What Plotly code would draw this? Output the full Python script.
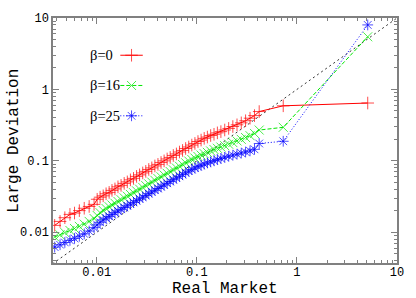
import plotly.graph_objects as go

# ---- data ----
real_market = [0.0038, 0.0043, 0.0048, 0.0054, 0.0060, 0.0067, 0.0075, 0.0084, 0.0094, 0.0101,
               0.0108, 0.0116, 0.0124, 0.0133, 0.0142, 0.0152, 0.0163, 0.0175, 0.0188, 0.0202,
               0.0217, 0.0233, 0.0250, 0.0268, 0.0288, 0.0309, 0.0331, 0.0355, 0.0381, 0.0409,
               0.0439, 0.0471, 0.0505, 0.0542, 0.0582, 0.0625, 0.0671, 0.0720, 0.0773, 0.0830,
               0.0891, 0.0957, 0.1027, 0.1103, 0.1185, 0.1275, 0.1375, 0.1485, 0.1605, 0.1740,
               0.1900, 0.2080, 0.2290, 0.2520, 0.2780, 0.3070, 0.3400, 0.3770, 0.4200, 0.7300,
               5.1000]

beta0 = [0.0125, 0.0142, 0.0160, 0.0178, 0.0186, 0.0201, 0.0217, 0.0230, 0.0246, 0.0290,
         0.0310, 0.0324, 0.0346, 0.0362, 0.0386, 0.0405, 0.0433, 0.0454, 0.0484, 0.0508,
         0.0542, 0.0569, 0.0606, 0.0637, 0.0678, 0.0713, 0.0758, 0.0798, 0.0849, 0.0893,
         0.0950, 0.1000, 0.1063, 0.1118, 0.1190, 0.1250, 0.1330, 0.1400, 0.1490, 0.1565,
         0.1664, 0.1755, 0.1865, 0.1955, 0.2065, 0.2155, 0.2265, 0.2355, 0.2465, 0.2565,
         0.2705, 0.2845, 0.3025, 0.3195, 0.3405, 0.3645, 0.3955, 0.4300, 0.4900, 0.5900,
         0.6450]

beta16 = [0.0086, 0.0092, 0.0099, 0.0106, 0.0113, 0.0121, 0.0130, 0.0142, 0.0156, 0.0172,
          0.0188, 0.0202, 0.0215, 0.0228, 0.0241, 0.0255, 0.0270, 0.0286, 0.0303, 0.0320,
          0.0339, 0.0359, 0.0380, 0.0402, 0.0425, 0.0450, 0.0476, 0.0504, 0.0534, 0.0565,
          0.0598, 0.0633, 0.0670, 0.0709, 0.0750, 0.0794, 0.0840, 0.0889, 0.0940, 0.0995,
          0.1045, 0.1095, 0.1150, 0.1205, 0.1260, 0.1315, 0.1375, 0.1440, 0.1500, 0.1560,
          0.1630, 0.1710, 0.1800, 0.1900, 0.2000, 0.2120, 0.2250, 0.2420, 0.2700, 0.2950,
          5.4600]

beta25 = [0.0062, 0.0067, 0.0072, 0.0077, 0.0082, 0.0088, 0.0095, 0.0104, 0.0116, 0.0127,
          0.0138, 0.0149, 0.0158, 0.0167, 0.0177, 0.0188, 0.0199, 0.0210, 0.0222, 0.0235,
          0.0248, 0.0262, 0.0277, 0.0293, 0.0310, 0.0328, 0.0347, 0.0367, 0.0388, 0.0410,
          0.0434, 0.0459, 0.0485, 0.0513, 0.0543, 0.0574, 0.0607, 0.0642, 0.0679, 0.0718,
          0.0755, 0.0793, 0.0830, 0.0865, 0.0900, 0.0935, 0.0970, 0.1005, 0.1040, 0.1080,
          0.1120, 0.1160, 0.1200, 0.1240, 0.1285, 0.1330, 0.1380, 0.1450, 0.1750, 0.1880,
          8.0000]

diagonal = [0.003, 10.0]          # reference line y = x

series_names = ["β=0", "β=16", "β=25"]
tick_values = [0.01, 0.1, 1, 10]
tick_labels = ["0.01", "0.1", "1", "10"]

# ---- styling ----
colors = ["#ff0000", "#00e800", "#0000ff"]
symbols = ["cross-thin", "x-thin", "asterisk-open"]
dashes = ["solid", "4px,2px", "1px,2px"]
series = [beta0, beta16, beta25]

mono = "Liberation Mono"
serif = "Liberation Serif"
frame = "#808080"

fig = go.Figure()

fig.add_trace(go.Scatter(x=diagonal, y=diagonal, mode="lines",
                         line=dict(color="#333333", width=1, dash="2px,3px"),
                         showlegend=False, hoverinfo="skip"))

for ys, c, s, d in zip(series, colors, symbols, dashes):
    fig.add_trace(go.Scatter(
        x=real_market, y=ys, mode="lines+markers",
        line=dict(color=c, width=1, dash=d),
        marker=dict(symbol=s, size=9, color=c, opacity=0.7,
                    line=dict(color=c, width=1)),
        showlegend=False))

# ---- hand-made legend (text on the left, key on the right) ----
key_rows = [0.848, 0.7246, 0.6008]
key_x = [0.1957, 0.2283, 0.261]
for name, c, s, d, ky in zip(series_names, colors, symbols, dashes, key_rows):
    fig.add_trace(go.Scatter(
        x=key_x, y=[ky] * 3, xaxis="x2", yaxis="y2", mode="lines+markers",
        line=dict(color=c, width=1, dash=d),
        marker=dict(symbol=s, size=[0, 9, 0], color=c,
                    line=dict(color=c, width=1)),
        showlegend=False, hoverinfo="skip"))
    fig.add_annotation(x=0.1012, y=ky, xref="paper", yref="paper",
                       text=name, showarrow=False, xanchor="left", yanchor="middle",
                       font=dict(family=serif, size=14.5, color="black"))

minor_vals = [m * 10.0 ** e for e in range(-3, 1) for m in range(2, 10)]

axis_common = dict(
    type="log", showgrid=False, zeroline=False,
    showline=True, linecolor=frame, linewidth=1.5, mirror="allticks",
    ticks="inside", ticklen=6, tickwidth=1, tickcolor=frame,
    tickmode="array", tickvals=tick_values, ticktext=tick_labels,
    tickfont=dict(family=mono, size=12, color="black"),
    minor=dict(ticks="inside", ticklen=3, tickwidth=1, tickcolor=frame,
               tickmode="array", tickvals=minor_vals, showgrid=False),
)

fig.update_layout(
    width=416, height=298,
    margin=dict(l=53, r=17, t=15, b=35),
    paper_bgcolor="white", plot_bgcolor="white",
    xaxis=dict(range=[-2.437, 1.0], ticklabelstandoff=-3, **axis_common),
    yaxis=dict(range=[-2.43, 1.0], **axis_common),
    xaxis2=dict(overlaying="x", range=[0, 1], visible=False, fixedrange=True),
    yaxis2=dict(overlaying="y", range=[0, 1], visible=False, fixedrange=True),
    showlegend=False,
)

fig.add_annotation(x=0.5, y=-0.105, xref="paper", yref="paper", text="Real Market",
                   showarrow=False, xanchor="center", yanchor="middle",
                   font=dict(family=mono, size=16, color="black"))
fig.add_annotation(x=-0.1156, y=0.5, xref="paper", yref="paper", text="Large Deviation",
                   showarrow=False, xanchor="center", yanchor="middle", textangle=-90,
                   font=dict(family=mono, size=16, color="black"))

fig.write_html("out.html", config={"displayModeBar": False},
               post_script="document.body.style.margin='0px';")
